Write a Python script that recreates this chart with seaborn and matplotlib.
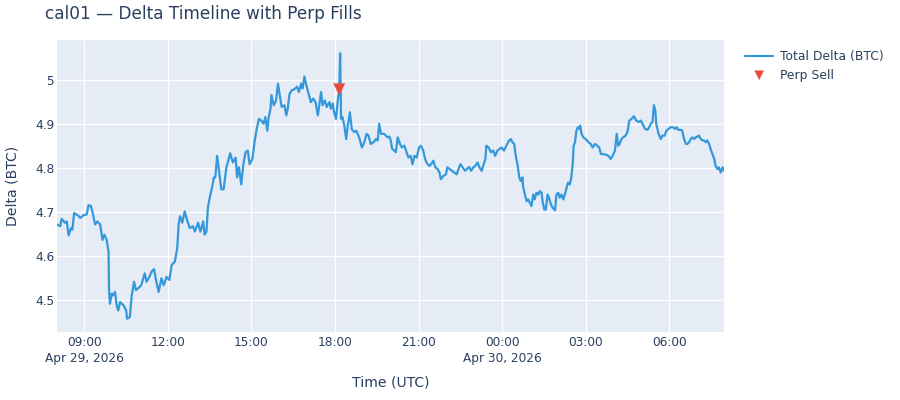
import pandas as pd
import matplotlib
matplotlib.use("Agg")
import matplotlib.pyplot as plt
import seaborn as sns

# minutes after 2026-04-29 08:00 UTC, and the total delta
delta_minutes = [
    1, 8, 11, 18, 22, 26, 31, 34, 38, 47, 51, 58, 65, 69, 74, 78, 83, 88, 94, 99,
    103, 108, 112, 113, 115, 119, 122, 126, 130, 133, 137, 144, 150, 152, 158, 162, 167, 171, 180, 183,
    190, 194, 200, 205, 210, 215, 220, 226, 231, 237, 243, 248, 255, 260, 263, 266, 271, 276, 281, 287,
    294, 298, 305, 310, 316, 319, 323, 326, 330, 335, 339, 342, 346, 349, 355, 360, 366, 369, 374, 380,
    386, 389, 393, 398, 402, 407, 412, 416, 422, 427, 432, 436, 441, 446, 450, 454, 457, 461, 463, 468,
    473, 477, 482, 485, 491, 495, 498, 502, 507, 512, 518, 522, 527, 530, 534, 538, 543, 548, 553, 558,
    563, 566, 570, 573, 578, 582, 588, 591, 595, 598, 602, 606, 609, 611, 612, 613, 616, 620, 624, 627,
    632, 636, 641, 646, 652, 658, 663, 668, 672, 677, 683, 688, 692, 695, 699, 706, 713, 717, 720, 723,
    728, 731, 735, 740, 744, 749, 753, 758, 763, 767, 771, 776, 781, 785, 790, 794, 797, 803, 807, 812,
    816, 821, 825, 828, 833, 839, 842, 847, 852, 857, 862, 866, 870, 875, 880, 884, 889, 893, 898, 902,
    907, 911, 916, 919, 924, 926, 931, 936, 941, 945, 950, 955, 959, 964, 969, 975, 979, 982, 986, 990,
    993, 997, 1000, 1004, 1005, 1009, 1013, 1016, 1020, 1023, 1027, 1030, 1034, 1038, 1041, 1045, 1047, 1051, 1054, 1058,
    1061, 1065, 1069, 1074, 1077, 1081, 1084, 1088, 1092, 1095, 1099, 1102, 1106, 1109, 1112, 1114, 1117, 1120, 1123, 1126,
    1128, 1131, 1135, 1140, 1146, 1151, 1155, 1160, 1165, 1169, 1173, 1178, 1183, 1189, 1194, 1198, 1203, 1207, 1210, 1213,
    1217, 1221, 1226, 1230, 1234, 1239, 1244, 1249, 1254, 1259, 1264, 1268, 1273, 1277, 1280, 1284, 1287, 1290, 1292, 1297,
    1302, 1305, 1310, 1314, 1318, 1323, 1328, 1333, 1336, 1340, 1345, 1348, 1352, 1356, 1359, 1363, 1366, 1370, 1374, 1377,
    1381, 1384, 1388, 1392, 1395, 1399, 1402, 1406, 1409, 1413, 1417, 1420, 1424, 1427, 1431, 1435, 1438,
]
delta_btc = [
    4.672, 4.668, 4.685, 4.676, 4.679, 4.647, 4.664, 4.660, 4.698, 4.692, 4.687, 4.693, 4.695, 4.716, 4.714, 4.698, 4.672, 4.679, 4.672, 4.637,
    4.649, 4.637, 4.611, 4.527, 4.492, 4.515, 4.511, 4.519, 4.485, 4.477, 4.496, 4.489, 4.477, 4.458, 4.462, 4.511, 4.542, 4.523, 4.531, 4.536,
    4.561, 4.542, 4.553, 4.565, 4.571, 4.542, 4.519, 4.550, 4.534, 4.553, 4.546, 4.580, 4.588, 4.618, 4.672, 4.691, 4.676, 4.702, 4.683, 4.664,
    4.668, 4.656, 4.676, 4.656, 4.679, 4.649, 4.656, 4.710, 4.733, 4.756, 4.779, 4.779, 4.828, 4.802, 4.752, 4.752, 4.802, 4.813, 4.834, 4.813,
    4.824, 4.779, 4.802, 4.763, 4.805, 4.836, 4.840, 4.809, 4.821, 4.863, 4.893, 4.912, 4.908, 4.901, 4.916, 4.885, 4.915, 4.935, 4.966, 4.943,
    4.954, 4.992, 4.958, 4.939, 4.943, 4.920, 4.935, 4.969, 4.977, 4.979, 4.985, 4.973, 4.992, 4.981, 5.008, 4.989, 4.969, 4.950, 4.958, 4.950,
    4.920, 4.943, 4.973, 4.943, 4.954, 4.939, 4.950, 4.935, 4.947, 4.927, 4.912, 4.954, 4.977, 5.061, 4.981, 4.912, 4.916, 4.897, 4.866, 4.893,
    4.927, 4.889, 4.882, 4.885, 4.870, 4.847, 4.859, 4.878, 4.874, 4.855, 4.859, 4.866, 4.863, 4.901, 4.878, 4.878, 4.870, 4.872, 4.863, 4.844,
    4.840, 4.836, 4.870, 4.855, 4.847, 4.851, 4.840, 4.824, 4.828, 4.809, 4.828, 4.824, 4.847, 4.851, 4.840, 4.821, 4.813, 4.805, 4.809, 4.817,
    4.802, 4.798, 4.790, 4.775, 4.782, 4.786, 4.802, 4.798, 4.794, 4.790, 4.786, 4.798, 4.809, 4.802, 4.794, 4.798, 4.803, 4.794, 4.802, 4.805,
    4.813, 4.802, 4.794, 4.805, 4.821, 4.851, 4.847, 4.836, 4.840, 4.828, 4.840, 4.844, 4.847, 4.840, 4.851, 4.863, 4.866, 4.859, 4.855, 4.824,
    4.809, 4.779, 4.771, 4.779, 4.760, 4.740, 4.725, 4.729, 4.721, 4.714, 4.740, 4.729, 4.744, 4.740, 4.748, 4.744, 4.725, 4.706, 4.706, 4.740,
    4.733, 4.718, 4.710, 4.704, 4.740, 4.744, 4.733, 4.740, 4.729, 4.740, 4.756, 4.767, 4.763, 4.779, 4.809, 4.851, 4.859, 4.885, 4.893, 4.889,
    4.897, 4.878, 4.870, 4.866, 4.859, 4.855, 4.847, 4.855, 4.851, 4.847, 4.832, 4.832, 4.831, 4.828, 4.821, 4.828, 4.840, 4.878, 4.851, 4.855,
    4.866, 4.870, 4.874, 4.882, 4.908, 4.912, 4.918, 4.908, 4.905, 4.908, 4.897, 4.889, 4.887, 4.893, 4.901, 4.905, 4.943, 4.931, 4.901, 4.878,
    4.866, 4.874, 4.874, 4.885, 4.889, 4.893, 4.893, 4.889, 4.893, 4.887, 4.887, 4.885, 4.866, 4.855, 4.855, 4.859, 4.866, 4.870, 4.866, 4.870,
    4.872, 4.874, 4.866, 4.863, 4.863, 4.859, 4.863, 4.855, 4.844, 4.832, 4.821, 4.805, 4.798, 4.802, 4.790, 4.802, 4.794,
]

# perp sell fills
sell_minutes = [609]
sell_delta = [4.979]

start = pd.Timestamp("2026-04-29 08:00")
df = pd.DataFrame({"time": start + pd.to_timedelta(delta_minutes, unit="m"), "delta": delta_btc})
df_sell = pd.DataFrame({"time": start + pd.to_timedelta(sell_minutes, unit="m"), "delta": sell_delta})

text_col = "#2a3f5f"
sns.set_style("darkgrid", {"axes.facecolor": "#E5ECF6", "grid.color": "white"})
plt.rcParams["font.family"] = ["DejaVu Sans"]

fig = plt.figure(figsize=(9, 4), dpi=100)
ax = fig.add_axes([57 / 900, 1 - 332 / 400, (724 - 57) / 900, (332 - 40) / 400])

sns.lineplot(data=df, x="time", y="delta", ax=ax, color="#3498DB", linewidth=1.6,
             label="Total Delta (BTC)")
sns.scatterplot(data=df_sell, x="time", y="delta", ax=ax, marker="v", s=75, color="#E74C3C",
                edgecolor="none", label="Perp Sell", zorder=5)

# plotly-style autorange: exact x span, 5% padding on y
ax.set_xlim(df["time"].min(), df["time"].max())
pad = (df["delta"].max() - df["delta"].min()) * 0.05
ax.set_ylim(df["delta"].min() - pad, df["delta"].max() + pad)

ticks = pd.date_range("2026-04-29 09:00", "2026-04-30 06:00", freq="3h")
labels = []
for t in ticks:
    if t == ticks[0] or t.hour == 0:
        labels.append(t.strftime("%H:%M") + "\n" + t.strftime("%b %d, %Y"))
    else:
        labels.append(t.strftime("%H:%M"))
ax.set_xticks(ticks)
ax.set_xticklabels(labels, ha="center", linespacing=1.3)
ax.set_yticks([4.5, 4.6, 4.7, 4.8, 4.9, 5.0])
ax.set_yticklabels(["4.5", "4.6", "4.7", "4.8", "4.9", "5"])
ax.tick_params(axis="both", length=0, labelsize=8.7, colors=text_col)
ax.tick_params(axis="x", pad=3)
ax.tick_params(axis="y", pad=2)
ax.grid(True, color="white", linewidth=1)
for s in ax.spines.values():
    s.set_visible(False)

ax.set_xlabel("Time (UTC)", fontsize=10.1, color=text_col, va="center")
ax.set_ylabel("Delta (BTC)", fontsize=10.1, color=text_col, va="center")
ax.xaxis.set_label_coords(0.5, -(382 - 332) / 292)
ax.yaxis.set_label_coords((13 - 57) / 667, 0.5)
fig.text(45 / 900, 1 - 14 / 400, "cal01 — Delta Timeline with Perp Fills", fontsize=12.2,
         color=text_col, va="center", ha="left")

ax.legend(loc="upper left", bbox_to_anchor=(740 / 900, 1 - 45 / 400), bbox_transform=fig.transFigure,
          frameon=False, fontsize=8.9, labelcolor=text_col, handlelength=2.3, borderaxespad=0,
          handletextpad=0.5, labelspacing=0.45, markerscale=0.8)

fig.savefig("out.png", dpi=100)
